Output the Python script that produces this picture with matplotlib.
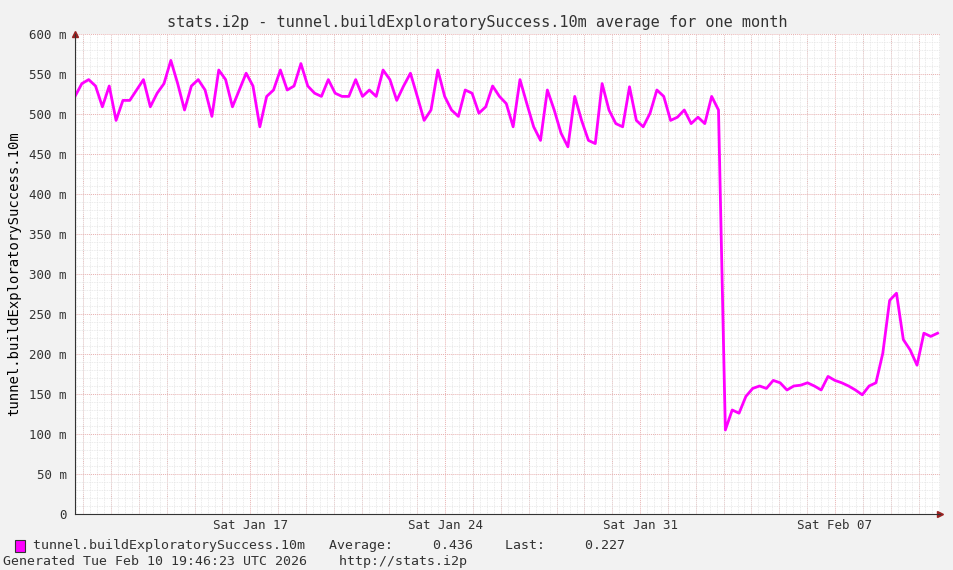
import matplotlib
matplotlib.use("Agg")
import matplotlib.pyplot as plt
import matplotlib.dates as mdates
import numpy as np
from datetime import datetime, timedelta

start = datetime(2026, 1, 10, 17, 0)
step_hours = 5.9
values_m = [
    522, 538, 543, 535, 509, 535, 492, 517, 517, 530, 543, 509, 526, 538, 567, 538,
    505, 535, 543, 530, 497, 555, 543, 509, 530, 551, 535, 484, 522, 530, 555, 530,
    535, 563, 535, 526, 522, 543, 526, 522, 522, 543, 522, 530, 522, 555, 543, 517,
    535, 551, 522, 492, 505, 555, 522, 505, 497, 530, 526, 501, 509, 535, 522,
    513, 484, 543, 513, 484, 467, 530, 505, 476, 459, 522, 492, 467, 463, 538, 505,
    488, 484, 534, 492, 484, 501, 530, 522, 492, 496, 505, 488, 496, 488, 522, 505,
    105, 130, 126, 147, 157, 160, 157, 167, 164, 155, 160, 161, 164, 160, 155, 172,
    167, 164, 160, 155, 149, 160, 164, 201, 267, 276, 218, 205, 186, 226, 222, 226,
]
times = [start + timedelta(hours=step_hours * i) for i in range(len(values_m))]

fig = plt.figure(figsize=(9.54, 5.70), dpi=100, facecolor="#f2f2f2")
ax = fig.add_axes([75/954, 56/570, 865/954, 480/570])
ax.set_facecolor("white")
ax.plot(times, np.array(values_m) / 1000.0, color="#ff00ff", lw=2)

ax.set_xlim(datetime(2026, 1, 10, 17, 0), datetime(2026, 2, 10, 18, 30))
ax.set_ylim(0, 0.6)
yt = np.arange(0, 0.61, 0.05)
ax.set_yticks(yt)
ax.set_yticklabels(["0"] + [f"{int(round(v*1000))} m" for v in yt[1:]])
ax.set_yticks(np.arange(0, 0.6, 0.01), minor=True)
ax.xaxis.set_major_locator(mdates.WeekdayLocator(byweekday=mdates.SA))
ax.xaxis.set_major_formatter(mdates.DateFormatter("Sat %b %d"))
ax.xaxis.set_minor_locator(mdates.HourLocator(byhour=[0, 6, 12, 18]))

ax.grid(which="minor", color="#e4e4e4", lw=0.6, ls=(0, (1, 1)))
ax.grid(which="major", axis="y", color="#e8b0b0", lw=0.7, ls=(0, (1, 1)))
for d in mdates.drange(datetime(2026, 1, 11), datetime(2026, 2, 11), timedelta(days=1)):
    ax.axvline(d, color="#e8b0b0", lw=0.7, ls=(0, (1, 1)), zorder=0)

for s in ["top", "right"]:
    ax.spines[s].set_visible(False)
for s in ["left", "bottom"]:
    ax.spines[s].set_color("#333333")
ax.tick_params(which="both", length=0, labelsize=9, colors="#333333")
ax.tick_params(axis="y", pad=6)
for lab in ax.get_xticklabels() + ax.get_yticklabels():
    lab.set_family("DejaVu Sans Mono")
ax.plot(1, 0, ">", color="#992222", ms=4, transform=ax.transAxes, clip_on=False)
ax.plot(0, 1, "^", color="#992222", ms=4, transform=ax.transAxes, clip_on=False)

ax.set_ylabel("tunnel.buildExploratorySuccess.10m", family="DejaVu Sans Mono", fontsize=10, labelpad=6)
fig.text(0.5, 1 - 22/570, "stats.i2p - tunnel.buildExploratorySuccess.10m average for one month",
         ha="center", va="center", family="DejaVu Sans Mono", fontsize=11, color="#333333")
fig.patches.append(plt.Rectangle((15/954, 1 - 552/570), 10/954, 12/570, transform=fig.transFigure,
                                 facecolor="#ff00ff", edgecolor="#333333", lw=0.8))
fig.text(33/954, 1 - 546/570, "tunnel.buildExploratorySuccess.10m   Average:     0.436    Last:     0.227",
         va="center", family="DejaVu Sans Mono", fontsize=9.5, color="#333333")
fig.text(3/954, 1 - 562/570, "Generated Tue Feb 10 19:46:23 UTC 2026    http://stats.i2p",
         va="center", family="DejaVu Sans Mono", fontsize=9.5, color="#333333")

fig.savefig("out.png", dpi=100, facecolor=fig.get_facecolor())
